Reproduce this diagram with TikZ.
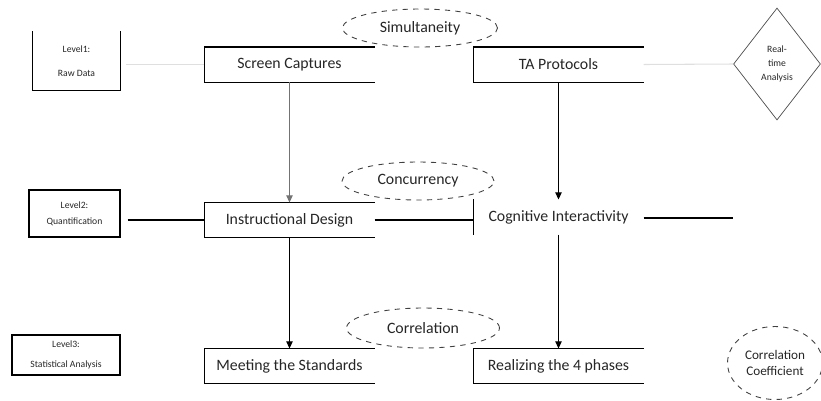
\documentclass[tikz,border=0pt]{standalone}
\usepackage{fontspec}
\setmainfont{Carlito}
\usetikzlibrary{shapes.geometric,arrows.meta}
\tikzset{
  stagebox/.style={minimum width=3.38cm, minimum height=0.68cm, inner sep=0pt, text=black!85, font=\fontsize{9}{11}\selectfont},
  levelbox/.style={inner sep=0pt, align=center, text=black!85, font=\fontsize{5.5}{7}\selectfont},
  relation/.style={ellipse, draw=black!75, dashed, line width=0.5pt, inner sep=0pt, align=center, text=black!85, font=\fontsize{9}{11}\selectfont},
  flow/.style={-{Triangle[length=4pt,width=3.6pt]}, line width=0.6pt},
}
\begin{document}
\begin{tikzpicture}[x=0.02cm, y=-0.02cm, line width=0.6pt]
    \useasboundingbox (0,0) rectangle (821,400);
    % levels
    \node[levelbox, minimum width=1.74cm, minimum height=1.16cm] (l1) at (76.5,61) {Level1:\\[7pt]Raw Data};
    \draw (l1.north west) -- (l1.south west) -- (l1.south east) -- (l1.north east);
    \node[levelbox, draw, minimum width=1.82cm, minimum height=0.94cm] (l2) at (74.5,213.5) {Level2:\\[2pt]Quantification};
    \node[levelbox, draw, minimum width=2.16cm, minimum height=0.8cm] (l3) at (66,355) {Level3:\\[4pt]Statistical Analysis};
    % stages
    \node[stagebox] (sc) at (289.5,64.5) {Screen Captures};
    \node[stagebox] (ta) at (558.5,64.5) {TA Protocols};
    \node[stagebox] (id) at (289.5,220) {Instructional Design};
    \node[stagebox] (ci) at (558.5,217) {Cognitive Interactivity};
    \node[stagebox] (ms) at (289.5,366) {Meeting the Standards};
    \node[stagebox] (rp) at (558.5,366) {Realizing the 4 phases};
    \foreach \n in {sc,ta,id,ms,rp}
        \draw (\n.north east) -- (\n.north west) -- (\n.south west) -- (\n.south east);
    \draw (ci.north west) -- (ci.south west);
    % relations
    \node[relation, minimum width=3.1cm, minimum height=0.76cm] (sim) at (420,28) {Simultaneity};
    \node[relation, minimum width=3.04cm, minimum height=0.76cm] (con) at (418,181) {Concurrency};
    \node[relation, minimum width=3.06cm, minimum height=0.8cm] (cor) at (423,328) {Correlation};
    \node[relation, minimum width=1.9cm, minimum height=1.46cm, font=\fontsize{7.5}{9}\selectfont] (cc) at (775,363) {Correlation\\Coefficient};
    \node[diamond, draw=black!70, line width=0.4pt, inner sep=0pt, minimum width=1.74cm, minimum height=2.24cm, align=center, text=black!85, font=\fontsize{5.5}{8}\selectfont] (rt) at (777,64) {Real-\\time\\Analysis};
    % connectors
    \draw[gray!25, shorten <=3pt] (l1.east |- sc.west) -- (sc.west);
    \draw[gray!25] (ta.east) -- (rt.west);
    \draw[shorten <=4pt] (l2.east |- id.west) -- (id.west);
    \draw (id.east) -- (id.east -| ci.west);
    \coordinate (ciend) at (733,218);
    \draw (ci.east |- ciend) -- (ciend);
    \draw[flow, black!55] (sc) -- (id);
    \draw[flow] (ta) -- (ci);
    \draw[flow] (id) -- (ms);
    \draw[flow] (ci) -- (rp);
\end{tikzpicture}
\end{document}
